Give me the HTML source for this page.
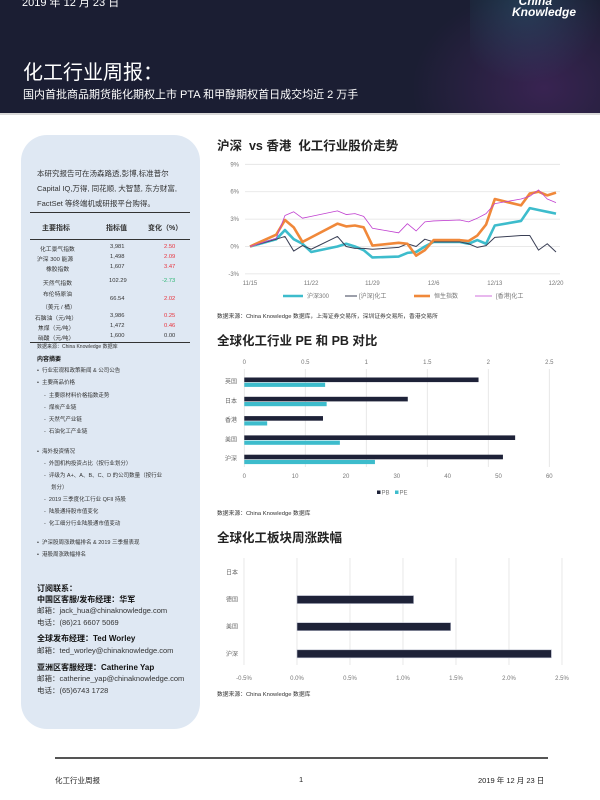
<!DOCTYPE html>
<html><head><meta charset="utf-8">
<style>
*{margin:0;padding:0;box-sizing:border-box}
body{width:600px;height:800px;position:relative;background:#fff;font-family:"Liberation Sans","Noto Sans CJK SC",sans-serif;overflow:hidden;color:#222}
.abs{position:absolute;white-space:nowrap}
#header{position:absolute;left:0;top:0;width:600px;height:113px;background:#1b1e33;overflow:hidden}
#header .glow1{position:absolute;left:400px;top:-20px;width:240px;height:180px;background:radial-gradient(ellipse at 60% 60%,rgba(190,60,220,.18),rgba(27,30,51,0) 65%)}
#header .glow2{position:absolute;left:470px;top:-30px;width:140px;height:120px;background:radial-gradient(ellipse at 40% 30%,rgba(60,190,210,.18),rgba(27,30,51,0) 65%)}
#sidebar{position:absolute;left:21px;top:135px;width:179px;height:594px;background:#dfe8f3;border-radius:26px}
.sb{position:absolute;white-space:nowrap;font-size:6px;color:#333}
.bold{font-weight:bold;color:#111}
.tl{position:absolute;left:30px;width:160px;border-top:1px solid #444}
.tr{position:absolute;font-size:5.8px;color:#333;white-space:nowrap}
.red{color:#e8323c}.green{color:#2bb673}
.title{position:absolute;font-size:12.5px;font-weight:bold;color:#222;white-space:nowrap}
.src{position:absolute;font-size:5.8px;color:#333;white-space:nowrap}
</style></head><body>
<div id="header">
  <div class="glow1"></div><div class="glow2"></div>
  <div class="abs" style="left:22px;top:-6px;font-size:11px;color:#fff">2019 年 12 月 23 日</div>
  <div class="abs" style="left:512px;top:-4px;font-size:12px;color:#fff;font-weight:bold;font-style:italic;line-height:11px;text-align:left">&nbsp;&nbsp;China<br>Knowledge</div>
  <div class="abs" style="left:23px;top:56px;font-size:20px;color:#fff">化工行业周报：</div>
  <div class="abs" style="left:23px;top:86px;font-size:11px;color:#fff">国内首批商品期货能化期权上市 PTA 和甲醇期权首日成交均近 2 万手</div>
</div>
<div class="abs" style="left:0;top:113px;width:600px;height:2px;background:#d8d8d8"></div>

<div id="sidebar"></div>
<div class="sb" style="left:37px;top:168px;font-size:7.5px">本研究报告可在汤森路透,彭博,标准普尔</div>
<div class="sb" style="left:37px;top:183px;font-size:7.5px">Capital IQ,万得, 同花顺, 大智慧, 东方财富,</div>
<div class="sb" style="left:37px;top:198px;font-size:7.5px">FactSet 等终端机或研报平台购得。</div>
<div>
<div class="tl" style="top:212px;border-top:1.5px solid #333"></div>
<div class="tr bold" style="left:42px;top:223px;font-size:7px">主要指标</div>
<div class="tr bold" style="left:106px;top:223px;font-size:7px">指标值</div>
<div class="tr bold" style="left:148px;top:223px;font-size:7px">变化（%）</div>
<div class="tl" style="top:239px;border-top:1.5px solid #333"></div>
<div class="tr" style="left:40px;top:244px">化工景气指数</div><div class="tr" style="left:110px;top:244px">3,981</div><div class="tr red" style="left:164px;top:244px">2.50</div>
<div class="tr" style="left:37px;top:254px">沪深 300 能源</div><div class="tr" style="left:110px;top:254px">1,498</div><div class="tr red" style="left:164px;top:254px">2.09</div>
<div class="tr" style="left:46px;top:264px">橡胶指数</div><div class="tr" style="left:110px;top:264px">1,607</div><div class="tr red" style="left:164px;top:264px">3.47</div>
<div class="tr" style="left:43px;top:278px">天然气指数</div><div class="tr" style="left:109px;top:278px">102.29</div><div class="tr green" style="left:162px;top:278px">-2.73</div>
<div class="tr" style="left:43px;top:289px">布伦特原油</div><div class="tr" style="left:42px;top:302px">（美元 / 桶）</div><div class="tr" style="left:110px;top:296px">66.54</div><div class="tr red" style="left:164px;top:296px">2.02</div>
<div class="tr" style="left:35px;top:313px">石脑油（元/吨）</div><div class="tr" style="left:110px;top:313px">3,986</div><div class="tr red" style="left:164px;top:313px">0.25</div>
<div class="tr" style="left:38px;top:323px">焦煤（元/吨）</div><div class="tr" style="left:110px;top:323px">1,472</div><div class="tr red" style="left:164px;top:323px">0.46</div>
<div class="tr" style="left:38px;top:333px">硝酸（元/吨）</div><div class="tr" style="left:110px;top:333px">1,600</div><div class="tr" style="left:164px;top:333px">0.00</div>
<div class="tl" style="top:342px;border-top:1.5px solid #333"></div>
</div>
<div class="sb" style="left:37px;top:343px;font-size:5px">数据来源：China Knowledge 数据库</div>
<div class="sb bold" style="left:37px;top:354px">内容摘要</div>
<div>
<div class="sb" style="left:37px;top:366px;font-size:5.5px">•&nbsp; 行业宏观和政策新闻 &amp; 公司公告</div>
<div class="sb" style="left:37px;top:378px;font-size:5.5px">•&nbsp; 主要商品价格</div>
<div class="sb" style="left:44px;top:391px;font-size:5.5px">-&nbsp; 主要原材料价格指数走势</div>
<div class="sb" style="left:44px;top:403px;font-size:5.5px">-&nbsp; 煤炭产业链</div>
<div class="sb" style="left:44px;top:415px;font-size:5.5px">-&nbsp; 天然气产业链</div>
<div class="sb" style="left:44px;top:427px;font-size:5.5px">-&nbsp; 石油化工产业链</div>
<div class="sb" style="left:37px;top:447px;font-size:5.5px">•&nbsp; 海外投资情况</div>
<div class="sb" style="left:44px;top:459px;font-size:5.5px">-&nbsp; 外国机构投资占比（按行业划分）</div>
<div class="sb" style="left:44px;top:471px;font-size:5.5px">-&nbsp; 评级为 A+、A、B、C、D 的公司数量（按行业</div>
<div class="sb" style="left:51px;top:483px;font-size:5.5px">划分）</div>
<div class="sb" style="left:44px;top:495px;font-size:5.5px">-&nbsp; 2019 三季度化工行业 QFII 持股</div>
<div class="sb" style="left:44px;top:507px;font-size:5.5px">-&nbsp; 陆股通持股市值变化</div>
<div class="sb" style="left:44px;top:519px;font-size:5.5px">-&nbsp; 化工细分行业陆股通市值变动</div>
<div class="sb" style="left:37px;top:538px;font-size:5.5px">•&nbsp; 沪深股周涨跌幅排名 &amp; 2019 三季报表现</div>
<div class="sb" style="left:37px;top:550px;font-size:5.5px">•&nbsp; 港股周涨跌幅排名</div>
</div>
<div>
<div class="sb bold" style="left:37px;top:583px;font-size:8px">订阅联系：</div>
<div class="sb bold" style="left:37px;top:594px;font-size:8px">中国区客服/发布经理：华军</div>
<div class="sb" style="left:37px;top:605px;font-size:7.5px">邮箱：jack_hua@chinaknowledge.com</div>
<div class="sb" style="left:37px;top:617px;font-size:7.5px">电话：(86)21 6607 5069</div>
<div class="sb bold" style="left:37px;top:633px;font-size:8px">全球发布经理：Ted Worley</div>
<div class="sb" style="left:37px;top:645px;font-size:7.5px">邮箱：ted_worley@chinaknowledge.com</div>
<div class="sb bold" style="left:37px;top:662px;font-size:8px">亚洲区客服经理：Catherine Yap</div>
<div class="sb" style="left:37px;top:673px;font-size:7.5px">邮箱：catherine_yap@chinaknowledge.com</div>
<div class="sb" style="left:37px;top:685px;font-size:7.5px">电话：(65)6743 1728</div>
</div>

<div class="title" style="left:217px;top:135px">沪深 &nbsp;vs 香港 &nbsp;化工行业股价走势</div>
<div class="src" style="left:217px;top:311px">数据来源：China Knowledge 数据库，上海证券交易所，深圳证券交易所，香港交易所</div>
<div class="title" style="left:217px;top:330px">全球化工行业 PE 和 PB 对比</div>
<div class="src" style="left:217px;top:508px">数据来源：China Knowledge 数据库</div>
<div class="title" style="left:217px;top:527px">全球化工板块周涨跌幅</div>
<div class="src" style="left:217px;top:689px">数据来源：China Knowledge 数据库</div>

<svg id="charts" width="600" height="800" style="position:absolute;left:0;top:0" font-family="Liberation Sans, Noto Sans CJK SC, sans-serif"></svg>

<div class="abs" style="left:55px;top:757px;width:493px;height:1.5px;background:#555"></div>
<div class="abs" style="left:55px;top:775px;font-size:7.5px">化工行业周报</div>
<div class="abs" style="left:299px;top:775px;font-size:7.5px">1</div>
<div class="abs" style="left:478px;top:775px;font-size:7.5px">2019 年 12 月 23 日</div>

<script>
// Chart 1 data
const dayOffsets = [0,3,4,5,6,7,10,11,12,13,14,17,18,19,20,21,24,25,26,27,28,31,32,33,34,35];
const hs300 = [0,0.8,1.8,0.8,0.3,-0.6,0.0,0.3,0,-0.4,-1.2,-1.1,-0.7,-0.6,0,0.5,0.5,0.3,0.7,0.3,2.3,2.8,4.2,4.0,3.8,3.6];
const szChem = [0,0.8,1.1,-0.5,0.1,-0.3,1.1,0,-0.2,-0.2,-0.3,-0.1,0.3,0,0.8,0.5,0.5,0.3,-0.1,0.1,1.0,1.2,1.2,-0.4,0.3,-0.6];
const hsi = [0,1.3,2.9,2.1,0.5,1.0,2.5,2.2,2.3,2.1,0.1,0.4,0.3,-1.0,-0.4,0.7,0.7,0.6,1.2,2.4,5.2,4.5,5.8,6.0,5.6,5.9];
const hkChem = [0,0.9,3.4,3.8,3.1,3.3,3.9,3.5,3.6,3.3,2.0,1.5,2.5,1.7,2.7,2.8,2.9,2.7,3.1,3.6,4.7,5.2,5.5,6.2,5.2,4.8];
const yTicks1 = [-3,0,3,6,9];
const xTickDays = [0,7,14,21,28,35];
const xTickLabels = ["11/15","11/22","11/29","12/6","12/13","12/20"];
// Chart 2 data
const peCats = ["英国","日本","香港","美国","沪深"];
const pbValues = [1.92,1.34,0.645,2.22,2.12];
const peValues = [15.9,16.2,4.5,18.8,25.7];
const pbTicks = [0,0.5,1,1.5,2,2.5];
const peTicks = [0,10,20,30,40,50,60];
// Chart 3 data
const chgCats = ["日本","德国","美国","沪深"];
const chgValues = [0,1.10,1.45,2.40];
const chgTicks = [-0.5,0,0.5,1,1.5,2,2.5];

const svg = document.getElementById('charts');
const NS = 'http://www.w3.org/2000/svg';
function mk(tag, attrs, parent){const e=document.createElementNS(NS,tag);for(const k in attrs)e.setAttribute(k,attrs[k]);(parent||svg).appendChild(e);return e;}
function txt(x,y,s,size,anchor,fill,parent){const t=mk('text',{x:x,y:y,'font-size':size,'text-anchor':anchor||'start',fill:fill||'#666'},parent);t.textContent=s;return t;}

// ---- Chart 1 ----
const g1 = mk('g',{});


const x1 = d => 250 + d*(306/35);
const y1 = v => 246.5 - v*9.13;
yTicks1.forEach(v=>{
  const l = mk('line',{x1:245,x2:560,y1:y1(v),y2:y1(v),stroke:'#e2e2e2','stroke-width':0.8},g1);
  
  
  const t = txt(239,y1(v)+2,v+'%',6,'end','#777',g1);
  
  
});
xTickDays.forEach((d,i)=>{
  const t = txt(x1(d),285,xTickLabels[i],6,'middle','#777',g1);
  
  
});
const series1 = [
  {vals:hs300,color:'#3dbccc',w:2.6,name:'hs300-line'},
  {vals:szChem,color:'#3a3f55',w:1,name:'sz-chem-line'},
  {vals:hsi,color:'#f0883a',w:2.6,name:'hsi-line'},
  {vals:hkChem,color:'#c040d0',w:0.8,name:'hk-chem-line'}
];
series1.forEach(s=>{
  const p = mk('polyline',{points:s.vals.map((v,i)=>x1(dayOffsets[i])+','+y1(v)).join(' '),fill:'none',stroke:s.color,'stroke-width':s.w,'stroke-linejoin':'round'},g1);
  
  
});
const legend1 = [
  {x1:283,x2:303,tx:307,label:'沪深300',color:'#3dbccc',w:2.6},
  {x1:345,x2:357,tx:359,label:'[沪深]化工',color:'#3a3f55',w:1},
  {x1:414,x2:430,tx:434,label:'恒生指数',color:'#f0883a',w:2.6},
  {x1:475,x2:492,tx:496,label:'[香港]化工',color:'#c040d0',w:0.8}
];
legend1.forEach(l=>{
  const ln = mk('line',{x1:l.x1,x2:l.x2,y1:296,y2:296,stroke:l.color,'stroke-width':l.w},g1);
  
  
  const t = txt(l.tx,298,l.label,6,'start','#777',g1);
  
  
});

// ---- Chart 2 ----
const g2 = mk('g',{});


const xPB = v => 244.3 + v/2.5*305;
const xPE = v => 244.3 + v/60*305;
pbTicks.forEach(v=>{
  const l = mk('line',{x1:xPB(v),x2:xPB(v),y1:369,y2:467,stroke:'#e2e2e2','stroke-width':0.8},g2);
  
  
  const t = txt(xPB(v),364,String(v),6,'middle','#777',g2);
  
  
});
peTicks.forEach(v=>{
  const t = txt(xPE(v),478,String(v),6,'middle','#777',g2);
  
  
});
peCats.forEach((c,i)=>{
  const yb = 377.5 + i*19.3;
  const t = txt(231,yb+6,c,6,'middle','#666',g2);
  
  
  const b1 = mk('rect',{x:xPB(0),y:yb,width:xPB(pbValues[i])-xPB(0),height:4.6,fill:'#1e2238'},g2);
  
  
  const b2 = mk('rect',{x:xPE(0),y:yb+5.2,width:xPE(peValues[i])-xPE(0),height:4.2,fill:'#3dbccc'},g2);
  
  
});
[{x:377,label:'PB',c:'#1e2238'},{x:395,label:'PE',c:'#3dbccc'}].forEach(l=>{
  const r = mk('rect',{x:l.x,y:490.5,width:3.5,height:3.5,fill:l.c},g2);
  
  
  const t = txt(l.x+4.5,494.5,l.label,6,'start','#777',g2);
  
  
});

// ---- Chart 3 ----
const g3 = mk('g',{});


const x3 = v => 297 + v*106;
chgTicks.forEach(v=>{
  const l = mk('line',{x1:x3(v),x2:x3(v),y1:558,y2:665,stroke:'#e2e2e2','stroke-width':0.8},g3);
  
  
  const t = txt(x3(v),680,v.toFixed(1)+'%',6,'middle','#777',g3);
  
  
});
chgCats.forEach((c,i)=>{
  const yc = 572.5 + i*27.1;
  const t = txt(232,yc+2,c,6,'middle','#666',g3);
  
  
  if(chgValues[i]!==0){
    const b = mk('rect',{x:x3(0),y:yc-4,width:x3(chgValues[i])-x3(0),height:8,fill:'#1e2238',stroke:'#b8bccb','stroke-width':0.6},g3);
    
    
  }
});
</script>
</body></html>
